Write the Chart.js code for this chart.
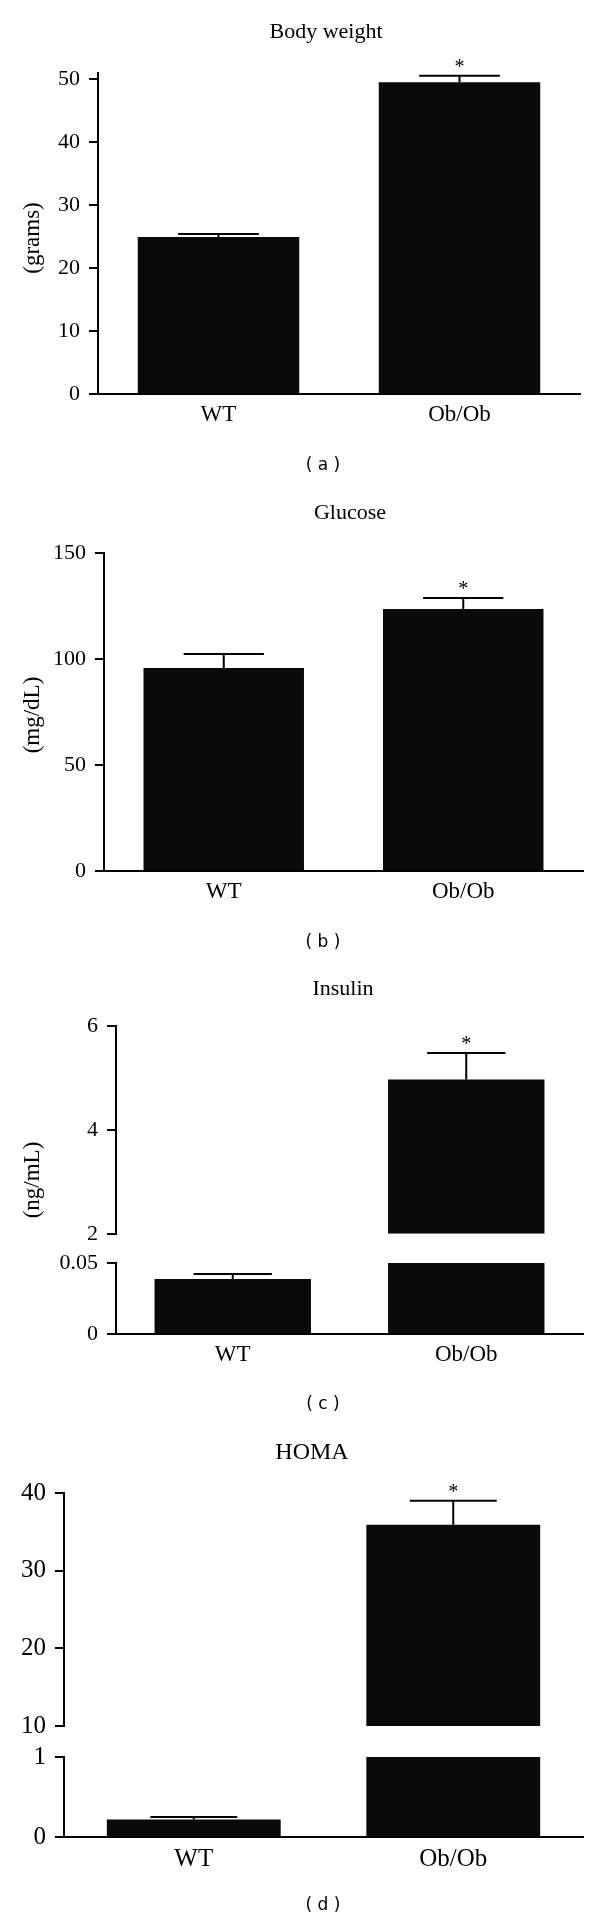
<!DOCTYPE html>
<html>
<head>
<meta charset="utf-8">
<script src="https://cdn.jsdelivr.net/npm/chart.js@4.4.1/dist/chart.umd.min.js"></script>
<style>
    html, body { margin: 0; padding: 0; background: #fff; }
    #page { position: relative; width: 600px; height: 1925px; }
    canvas { position: absolute; left: 0; }
</style>
</head>
<body>
<div id="page">
    <canvas id="weightChart" width="600" height="480" style="top:0px"></canvas>
    <canvas id="glucoseChart" width="600" height="480" style="top:480px"></canvas>
    <canvas id="insulinTop" width="600" height="296" style="top:960px"></canvas>
    <canvas id="insulinBottom" width="600" height="200" style="top:1240px"></canvas>
    <canvas id="homaTop" width="600" height="320" style="top:1430px"></canvas>
    <canvas id="homaBottom" width="600" height="194" style="top:1731px"></canvas>
</div>
<script>
// Groups and significance marks
const groups = ['WT', 'Ob/Ob'];
const significant = [false, true];

// Body weight (grams)
const weightMean = [24.9, 49.5];
const weightSem = [0.5, 1.0];
const weightTicks = [0, 10, 20, 30, 40, 50];

// Glucose (mg/dL)
const glucoseMean = [95.8, 123.6];
const glucoseSem = [6.6, 5.2];
const glucoseTicks = [0, 50, 100, 150];

// Insulin (ng/mL), broken axis
const insulinMean = [0.0387, 4.97];
const insulinSem = [0.0036, 0.51];
const insulinTicksTop = [2, 4, 6];
const insulinTicksBottom = [0, 0.05];

// HOMA, broken axis
const homaMean = [0.22, 35.9];
const homaSem = [0.03, 3.1];
const homaTicksTop = [10, 20, 30, 40];
const homaTicksBottom = [0, 1];

const SERIF = '"Liberation Serif", "Times New Roman", serif';
const SANS = '"DejaVu Sans", Verdana, sans-serif';
const BAR_COLOR = '#0a0a0a';

// upward-only SEM bars, plus the * above significant groups
const errorBarPlugin = {
    id: 'errorBars',
    afterDatasetsDraw(chart, args, opts) {
        if (!opts.mean) return;
        const ctx = chart.ctx;
        const meta = chart.getDatasetMeta(0);
        const y = chart.scales.y;
        ctx.save();
        ctx.strokeStyle = '#000';
        ctx.lineWidth = 2;
        ctx.fillStyle = '#000';
        ctx.font = `20px ${SERIF}`;
        ctx.textAlign = 'center';
        ctx.textBaseline = 'middle';
        opts.mean.forEach((m, i) => {
            if (m < y.min || m > y.max) return;
            const bar = meta.data[i];
            const y0 = y.getPixelForValue(m);
            const y1 = y.getPixelForValue(m + opts.sem[i]);
            const half = bar.width / 4;
            ctx.beginPath();
            ctx.moveTo(bar.x, y0);
            ctx.lineTo(bar.x, y1);
            ctx.moveTo(bar.x - half, y1);
            ctx.lineTo(bar.x + half, y1);
            ctx.stroke();
            if (opts.star[i]) ctx.fillText('*', bar.x, y1 - 8);
        });
        ctx.restore();
    }
};

// titles, axis names and panel letters
const panelTextPlugin = {
    id: 'panelText',
    afterDraw(chart, args, opts) {
        const ctx = chart.ctx;
        (opts.items || []).forEach(t => {
            ctx.save();
            ctx.font = `${t.size}px ${t.family || SERIF}`;
            ctx.fillStyle = '#000';
            ctx.textAlign = 'center';
            ctx.textBaseline = 'middle';
            ctx.translate(t.x, t.y);
            if (t.rotate) ctx.rotate(t.rotate);
            ctx.fillText(t.text, 0, 0);
            ctx.restore();
        });
    }
};

const upperPart = (means, lo, hi) => means.map(m => m > lo ? [lo, Math.min(m, hi)] : null);
const lowerPart = (means, hi) => means.map(m => [0, Math.min(m, hi)]);

function makePanel(id, cfg) {
    return new Chart(document.getElementById(id), {
        type: 'bar',
        data: {
            labels: groups,
            datasets: [{
                data: cfg.bars,
                backgroundColor: BAR_COLOR,
                borderWidth: 0,
                barPercentage: 0.67,
                categoryPercentage: 1
            }]
        },
        options: {
            responsive: false,
            animation: false,
            layout: { padding: cfg.padding },
            plugins: {
                legend: { display: false },
                tooltip: { enabled: false },
                title: { display: false },
                errorBars: { mean: cfg.mean, sem: cfg.sem, star: significant },
                panelText: { items: cfg.texts || [] }
            },
            scales: {
                x: {
                    display: cfg.showX,
                    grid: { display: false, drawTicks: false },
                    border: { display: true, color: '#000', width: 2 },
                    ticks: { color: '#000', padding: 7, font: { family: SERIF, size: cfg.catSize } },
                    afterFit: s => { if (cfg.showX) s.height = cfg.xHeight; }
                },
                y: {
                    min: cfg.min,
                    max: cfg.max,
                    afterBuildTicks: s => { s.ticks = cfg.ticks.map(v => ({ value: v })); },
                    grid: { drawOnChartArea: false, drawTicks: true, tickLength: 9, color: '#000', lineWidth: 2 },
                    border: { display: true, color: '#000', width: 2 },
                    ticks: {
                        color: '#000',
                        padding: 9,
                        font: { family: SERIF, size: cfg.tickSize },
                        callback: v => String(v)
                    },
                    afterFit: s => { s.width = cfg.axisX; }
                }
            }
        },
        plugins: [errorBarPlugin, panelTextPlugin]
    });
}

// (a) Body weight
makePanel('weightChart', {
    bars: weightMean, mean: weightMean, sem: weightSem,
    min: 0, max: 50.95, ticks: weightTicks,
    padding: { top: 73, right: 20, bottom: 0, left: 0 },
    axisX: 98, xHeight: 86, showX: true, tickSize: 22, catSize: 23,
    texts: [
        { text: 'Body weight', x: 326, y: 32, size: 22 },
        { text: '(grams)', x: 33, y: 238, size: 23, rotate: -Math.PI / 2 },
        { text: '( a )', x: 323, y: 466, size: 17, family: SANS }
    ]
});

// (b) Glucose
makePanel('glucoseChart', {
    bars: glucoseMean, mean: glucoseMean, sem: glucoseSem,
    min: 0, max: 150, ticks: glucoseTicks,
    padding: { top: 73, right: 17, bottom: 0, left: 0 },
    axisX: 104, xHeight: 89, showX: true, tickSize: 22, catSize: 23,
    texts: [
        { text: 'Glucose', x: 350, y: 33, size: 22 },
        { text: '(mg/dL)', x: 33, y: 235, size: 23, rotate: -Math.PI / 2 },
        { text: '( b )', x: 323, y: 463, size: 17, family: SANS }
    ]
});

// (c) Insulin - upper and lower segments of the broken axis
makePanel('insulinTop', {
    bars: upperPart(insulinMean, 2, 6), mean: insulinMean, sem: insulinSem,
    min: 2, max: 6, ticks: insulinTicksTop,
    padding: { top: 66, right: 17, bottom: 16, left: 0 },
    axisX: 116, showX: false, tickSize: 22, catSize: 23,
    texts: [
        { text: 'Insulin', x: 343, y: 29, size: 22 },
        { text: '(ng/mL)', x: 33, y: 220, size: 23, rotate: -Math.PI / 2 }
    ]
});
makePanel('insulinBottom', {
    bars: lowerPart(insulinMean, 0.05), mean: insulinMean, sem: insulinSem,
    min: 0, max: 0.05, ticks: insulinTicksBottom,
    padding: { top: 23, right: 17, bottom: 0, left: 0 },
    axisX: 116, xHeight: 106, showX: true, tickSize: 22, catSize: 23,
    texts: [
        { text: '( c )', x: 323, y: 165, size: 17, family: SANS }
    ]
});

// (d) HOMA - upper and lower segments of the broken axis
makePanel('homaTop', {
    bars: upperPart(homaMean, 10, 40), mean: homaMean, sem: homaSem,
    min: 10, max: 40, ticks: homaTicksTop,
    padding: { top: 63, right: 17, bottom: 19, left: 0 },
    axisX: 64, showX: false, tickSize: 25, catSize: 25,
    texts: [
        { text: 'HOMA', x: 312, y: 23, size: 24 }
    ]
});
makePanel('homaBottom', {
    bars: lowerPart(homaMean, 1), mean: homaMean, sem: homaSem,
    min: 0, max: 1, ticks: homaTicksBottom,
    padding: { top: 26, right: 17, bottom: 0, left: 0 },
    axisX: 64, xHeight: 88, showX: true, tickSize: 25, catSize: 25,
    texts: [
        { text: '( d )', x: 323, y: 175, size: 17, family: SANS }
    ]
});
</script>
</body>
</html>
